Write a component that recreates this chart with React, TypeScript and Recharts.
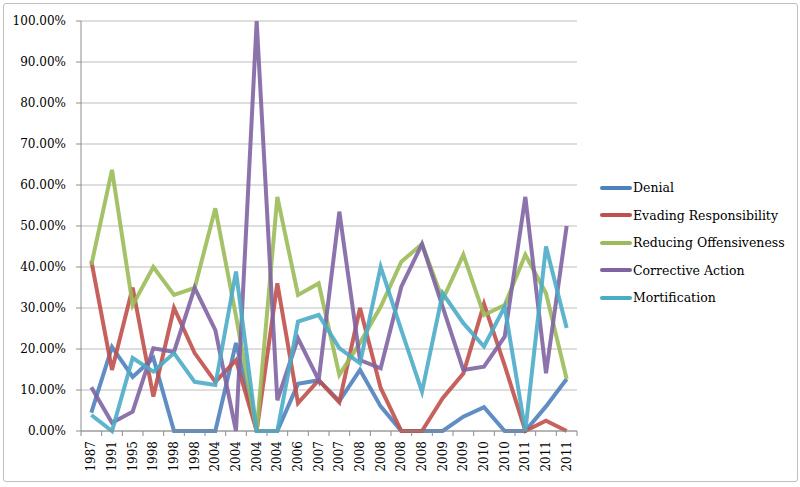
import { LineChart, Line, XAxis, YAxis, CartesianGrid } from 'recharts'

const years = [
  '1987', '1991', '1995', '1998', '1998', '1998', '2004', '2004', '2004', '2004', '2006', '2007',
  '2007', '2008', '2008', '2008', '2008', '2009', '2009', '2010', '2010', '2011', '2011', '2011',
]

const denial = [4.5, 20.5, 13.2, 17.8, 0, 0, 0, 21.5, 0, 0, 11.5, 12.4, 7.3, 14.9, 6, 0, 0, 0, 3.5, 5.8, 0, 0, 6, 12.7]
const evading = [41.5, 14.9, 35, 8.4, 30, 19, 12, 17.3, 0, 36, 6.8, 12.4, 7, 30, 10.5, 0, 0, 8, 14, 31, 16, 0, 2.5, 0]
const reducing = [40.5, 63.7, 30.7, 40, 33.2, 34.9, 54.3, 28, 0, 57.1, 33.2, 36, 13.7, 21.5, 30.3, 41.3, 45.6, 32, 43, 28.3, 30.7, 43, 33.6, 12.7]
const corrective = [10.7, 2, 4.7, 20.2, 19.3, 34.9, 24.6, 0, 100, 7.5, 22.6, 12.4, 53.5, 17.3, 15.3, 35.2, 45.6, 30.3, 14.9, 15.7, 23, 57.1, 14.1, 50]
const mortification = [3.9, 0, 17.8, 14.5, 19, 12, 11.2, 38.9, 0, 0, 26.7, 28.3, 20.2, 16.5, 40, 24.6, 9.6, 33.6, 26.3, 20.6, 30.3, 0, 45, 25.1]

const yTicks = [0, 10, 20, 30, 40, 50, 60, 70, 80, 90, 100]

const series = [
  { key: 'denial', name: 'Denial', color: '#4f81bd' },
  { key: 'evading', name: 'Evading Responsibility', color: '#c0504d' },
  { key: 'reducing', name: 'Reducing Offensiveness', color: '#9bbb59' },
  { key: 'corrective', name: 'Corrective Action', color: '#8064a2' },
  { key: 'mortification', name: 'Mortification', color: '#4bacc6' },
]

const data = years.map((year, i) => ({
  year,
  denial: denial[i],
  evading: evading[i],
  reducing: reducing[i],
  corrective: corrective[i],
  mortification: mortification[i],
}))

const FONT = '"DejaVu Serif", serif'
const W = 800
const H = 487
const LEFT = 81
const RIGHT = 223
const BAND = (W - LEFT - RIGHT) / years.length

function XTick(props: any) {
  const { x, y, payload, index } = props
  const last = index === years.length - 1
  return (
    <g>
      <line x1={x - BAND / 2} y1={y - 8} x2={x - BAND / 2} y2={y - 3} stroke="#8c8c8c" />
      {last && <line x1={x + BAND / 2} y1={y - 8} x2={x + BAND / 2} y2={y - 3} stroke="#8c8c8c" />}
      <text
        x={0}
        y={0}
        transform={`translate(${x + 4},${y + 2}) rotate(-90)`}
        textAnchor="end"
        fontFamily={FONT}
        fontSize={12}
        fill="#000"
      >
        {payload.value}
      </text>
    </g>
  )
}

export default function App() {
  return (
    <div style={{ position: 'absolute', left: 0, top: 0, width: W, height: H, background: '#fff' }}>
      <div
        style={{
          position: 'absolute',
          left: 3,
          top: 3,
          width: 793,
          height: 477,
          border: '1px solid #bfbfbf',
          borderRadius: 3,
        }}
      />
      <div style={{ position: 'absolute', left: 0, top: 0 }}>
        <LineChart width={W} height={H} data={data} margin={{ top: 21, right: RIGHT, bottom: 0, left: 0 }}>
          <CartesianGrid vertical={false} stroke="#bdbdbd" />
          <XAxis
            dataKey="year"
            height={56}
            tick={<XTick />}
            tickLine={false}
            axisLine={{ stroke: '#8c8c8c' }}
            interval={0}
            padding={{ left: BAND / 2, right: BAND / 2 }}
          />
          <YAxis
            width={LEFT}
            domain={[0, 100]}
            ticks={yTicks}
            interval={0}
            tickFormatter={(v) => `${Number(v).toFixed(2)}%`}
            tick={{ fill: '#000', fontSize: 12, fontFamily: FONT }}
            tickLine={{ stroke: '#8c8c8c' }}
            tickSize={5}
            tickMargin={10}
            axisLine={{ stroke: '#8c8c8c' }}
          />
          {series.map((s) => (
            <Line
              key={s.key}
              dataKey={s.key}
              name={s.name}
              type="linear"
              stroke={s.color}
              strokeWidth={4}
              strokeOpacity={0.9}
              dot={false}
              isAnimationActive={false}
            />
          ))}
        </LineChart>
      </div>
      <div style={{ position: 'absolute', left: 600, top: 174, fontFamily: FONT, fontSize: 12.5, color: '#000' }}>
        {series.map((s) => (
          <div key={s.key} style={{ display: 'flex', alignItems: 'center', height: 27.5 }}>
            <span style={{ display: 'inline-block', width: 32, height: 4, borderRadius: 2, background: s.color }} />
            <span style={{ marginLeft: 1 }}>{s.name}</span>
          </div>
        ))}
      </div>
    </div>
  )
}
